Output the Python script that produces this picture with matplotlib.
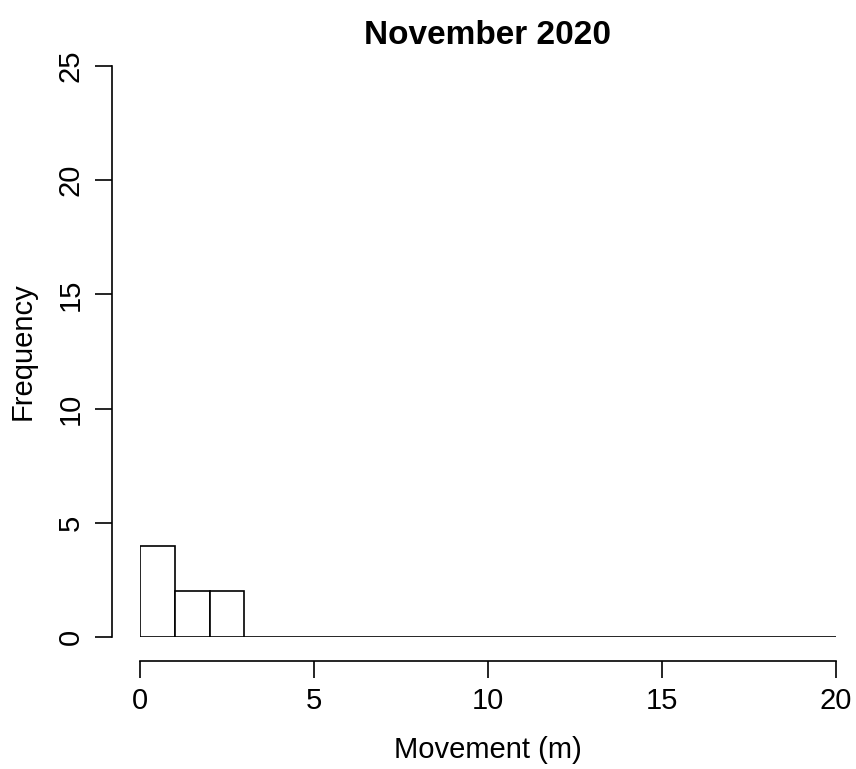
import numpy as np
import matplotlib.pyplot as plt

plt.rcParams['font.family'] = ['Liberation Sans', 'DejaVu Sans']

# Histogram of movement, 1 m bins
bin_edges = [0, 1, 2, 3, 4, 5, 6, 7, 8, 9, 10, 11, 12, 13, 14, 15, 16, 17, 18, 19, 20]
counts = [4, 2, 2, 0, 0, 0, 0, 0, 0, 0, 0, 0, 0, 0, 0, 0, 0, 0, 0, 0]
x_ticks = [0, 5, 10, 15, 20]
y_ticks = [0, 5, 10, 15, 20, 25]

fig = plt.figure(figsize=(8.56, 7.69), dpi=100)
ax = fig.add_axes([140 / 856, 1 - 637 / 769, 696 / 856, 571 / 769])

edges = np.asarray(bin_edges)
ax.bar(edges[:-1], counts, width=np.diff(edges), align='edge',
       facecolor='white', edgecolor='black', linewidth=1.2)

ax.set_xlim(0, 20)
ax.set_ylim(0, 25)

# R-style detached axes
for side in ['top', 'right']:
    ax.spines[side].set_visible(False)
ax.spines['left'].set_position(('outward', 20))
ax.spines['bottom'].set_position(('outward', 17))
ax.spines['left'].set_bounds(0, 25)
ax.spines['bottom'].set_bounds(0, 20)
for side in ['left', 'bottom']:
    ax.spines[side].set_linewidth(1.2)

ax.set_xticks(x_ticks)
ax.set_yticks(y_ticks)
ax.tick_params(axis='both', direction='out', length=12, width=1.2, labelsize=21)
ax.tick_params(axis='x', pad=7)
ax.tick_params(axis='y', pad=8)
for lbl in ax.get_yticklabels():
    lbl.set_rotation(90)
    lbl.set_va('center')

ax.set_xlabel("Movement (m)", fontsize=21, labelpad=15)
ax.set_ylabel("Frequency", fontsize=21, labelpad=14)
ax.set_title("November 2020", fontsize=24, fontweight='bold', pad=16)

plt.savefig("out.png", dpi=100)
